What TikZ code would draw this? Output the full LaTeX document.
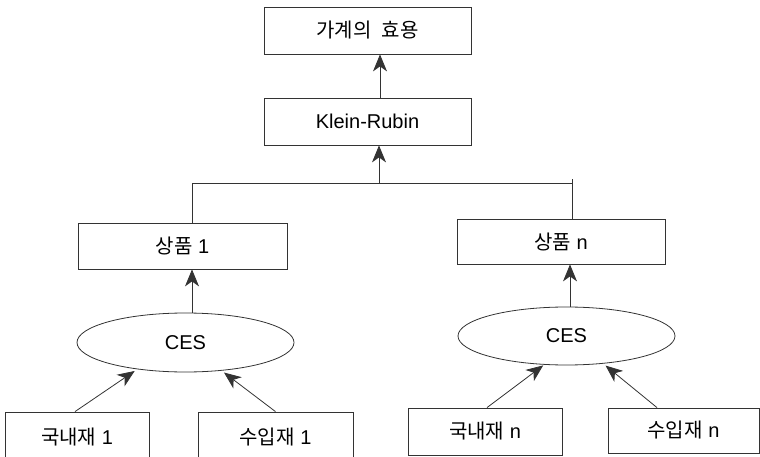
\documentclass[tikz,border=0pt]{standalone}
\usepackage{fontspec}
\setmainfont{Liberation Sans}
\newfontfamily\kr{Noto Sans CJK KR}
\usetikzlibrary{arrows.meta,shapes.geometric}

\tikzset{
  box/.style={draw=black!80, line width=0.8pt, rectangle, inner sep=0pt,
              font=\fontsize{20}{23}\selectfont},
  oval/.style={draw=black!80, line width=0.8pt, ellipse, inner sep=0pt,
               minimum width=217pt, minimum height=59pt,
               font=\fontsize{20}{23}\selectfont},
  arr/.style={draw=black!80, line width=0.8pt,
              -{Stealth[length=17pt,width=14pt,inset=5pt]}},
  link/.style={draw=black!80, line width=0.8pt}
}

\begin{document}
\begin{tikzpicture}[x=1pt,y=-1pt]
  \useasboundingbox (0,0) rectangle (760,457);
  \clip (0,0) rectangle (760,457);

  % upper chain
  \node[box, minimum width=207pt, minimum height=47pt] (util) at (367.5,30.5) {\kr 가계의\hspace{6pt} 효용};
  \node[box, minimum width=207pt, minimum height=47pt] (kr) at (367.5,121.5) {Klein-Rubin};

  % goods
  \node[box, minimum width=209pt, minimum height=46pt] (g1) at (182.5,246) {{\kr 상품} 1};
  \node[box, minimum width=208pt, minimum height=45pt] (g2) at (561,241.5) {{\kr 상품} n};

  % CES aggregators
  \node[oval] (ces1) at (185.5,342.5) {CES};
  \node[oval, minimum height=58pt] (ces2) at (566.5,336) {CES};

  % domestic and imported varieties
  \node[box, minimum width=144pt, minimum height=50pt] (d1) at (77,437) {{\kr 국내재} 1};
  \node[box, minimum width=155pt, minimum height=50pt] (s1) at (275.5,437) {{\kr 수입재} 1};
  \node[box, minimum width=154pt, minimum height=47pt] (d2) at (485,431.5) {{\kr 국내재} n};
  \node[box, minimum width=151pt, minimum height=45pt] (s2) at (683.5,430.5) {{\kr 수입재} n};

  % branching bar under Klein-Rubin
  \coordinate (jl) at (192,183);
  \coordinate (jm) at (379,183);
  \coordinate (jr) at (572,183);
  \draw[link] (jl |- g1.north) -- (jl) -- (jr) -- (jr |- g2.north);
  \draw[link] (jr) -- ++(0,-4);

  % upward arrows
  \draw[arr] (jm) -- (jm |- kr.south);
  \draw[arr] ([xshift=12.5pt]kr.north) -- ([xshift=12.5pt]util.south);
  \draw[arr] ([xshift=6.5pt]ces1.north) -- ([xshift=6.5pt]ces1.north |- g1.south);
  \draw[arr] ([xshift=3.5pt]ces2.north) -- ([xshift=3.5pt]ces2.north |- g2.south);

  \draw[arr, shorten >=3pt] ([xshift=-2pt]d1.north) -- (ces1.209);
  \draw[arr, shorten >=3pt] (s1.north) -- (ces1.322);
  \draw[arr, shorten >=1pt] ([xshift=2pt]d2.north) -- (ces2.232);
  \draw[arr, shorten >=3pt] ([xshift=-26.5pt]s2.north) -- (ces2.323);
\end{tikzpicture}
\end{document}
